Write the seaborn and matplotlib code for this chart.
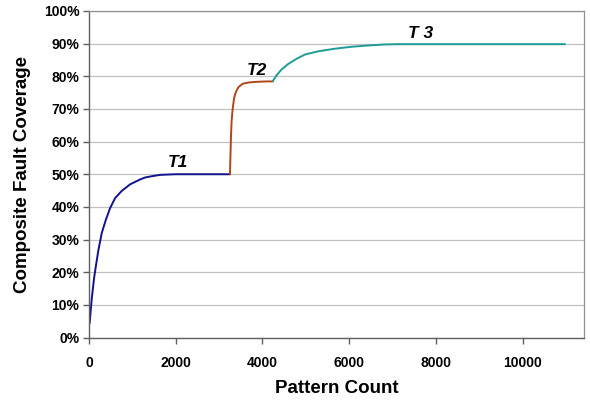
import matplotlib
matplotlib.use("Agg")
import matplotlib.pyplot as plt
import seaborn as sns
import pandas as pd
from matplotlib.ticker import PercentFormatter

# ----------------------------------------------------------------------------
# Data
# ----------------------------------------------------------------------------

t1_patterns = [12, 62, 115, 160, 215, 292, 385, 484, 600, 754, 946, 1176,
               1292, 1450, 1638, 1800, 2000, 2500, 3000, 3250]
t1_coverage = [4.4, 12.0, 18.2, 22.2, 26.8, 32.0, 36.0, 39.6, 42.7, 44.9,
               46.9, 48.4, 49.0, 49.4, 49.8, 49.9, 50.0, 50.0, 50.0, 50.0]

t2_patterns = [3250, 3262, 3272, 3287, 3305, 3322, 3345, 3375, 3410, 3450,
               3545, 3695, 3900, 4100, 4240]
t2_coverage = [50.0, 56.0, 61.0, 66.0, 69.0, 71.0, 73.2, 74.7, 75.8, 76.7,
               77.7, 78.1, 78.3, 78.4, 78.4]

t3_patterns = [4240, 4321, 4436, 4590, 4783, 4975, 5282, 5666, 6051, 6436,
               6820, 7090, 7500, 8500, 9500, 10980]
t3_coverage = [78.5, 80.2, 82.0, 83.7, 85.3, 86.6, 87.6, 88.4, 89.0, 89.4,
               89.7, 89.8, 89.8, 89.8, 89.8, 89.8]

seg_labels = ["T1", "T2", "T 3"]
label_x = [2053, 3875, 7636]
label_y = [53.7, 81.6, 93.2]

colors = ["#12128f", "#b0461a", "#1f9b97"]

# ----------------------------------------------------------------------------
# Plot
# ----------------------------------------------------------------------------

sns.set_style("white")
plt.rcParams["font.family"] = ["Liberation Sans", "DejaVu Sans"]
plt.rcParams["text.color"] = "black"
plt.rcParams["axes.labelcolor"] = "black"
plt.rcParams["xtick.color"] = "black"
plt.rcParams["ytick.color"] = "black"

fig = plt.figure(figsize=(5.9, 4.01), dpi=100)
ax = fig.add_axes([0.151, 0.158, 0.839, 0.815])

segments = [(t1_patterns, t1_coverage), (t2_patterns, t2_coverage),
            (t3_patterns, t3_coverage)]
for (xs, ys), c in zip(segments, colors):
    df = pd.DataFrame({"pattern": xs, "coverage": ys})
    sns.lineplot(data=df, x="pattern", y="coverage", color=c, linewidth=1.4,
                 ax=ax)

for txt, x, y in zip(seg_labels, label_x, label_y):
    ax.text(x, y, txt, ha="center", va="center", fontsize=12.5,
            fontweight="bold", fontstyle="italic", color="black")

ax.set_xlim(0, 11420)
ax.set_ylim(0, 100)
ax.set_xticks([0, 2000, 4000, 6000, 8000, 10000])
ax.set_yticks(range(0, 101, 10))
ax.yaxis.set_major_formatter(PercentFormatter(decimals=0))
ax.grid(True, axis="y", color="#c0c0c0", linewidth=0.9)
ax.set_axisbelow(True)

for side in ["top", "right"]:
    ax.spines[side].set_color("#909090")
    ax.spines[side].set_linewidth(0.9)
for side in ["left", "bottom"]:
    ax.spines[side].set_color("#606060")
    ax.spines[side].set_linewidth(1.0)

ax.tick_params(axis="both", direction="out", length=4, width=1.0,
               color="#606060", labelcolor="black", labelsize=10,
               left=True, bottom=True)
ax.tick_params(axis="x", pad=9.5)
ax.tick_params(axis="y", pad=3)
for lbl in ax.get_xticklabels() + ax.get_yticklabels():
    lbl.set_fontweight("bold")

ax.set_xlabel("Pattern Count", fontsize=13.5, fontweight="bold", labelpad=7,
              color="black")
ax.set_ylabel("Composite Fault Coverage", fontsize=13.5, fontweight="bold",
              labelpad=9, color="black")

fig.savefig("out.png", dpi=100)
